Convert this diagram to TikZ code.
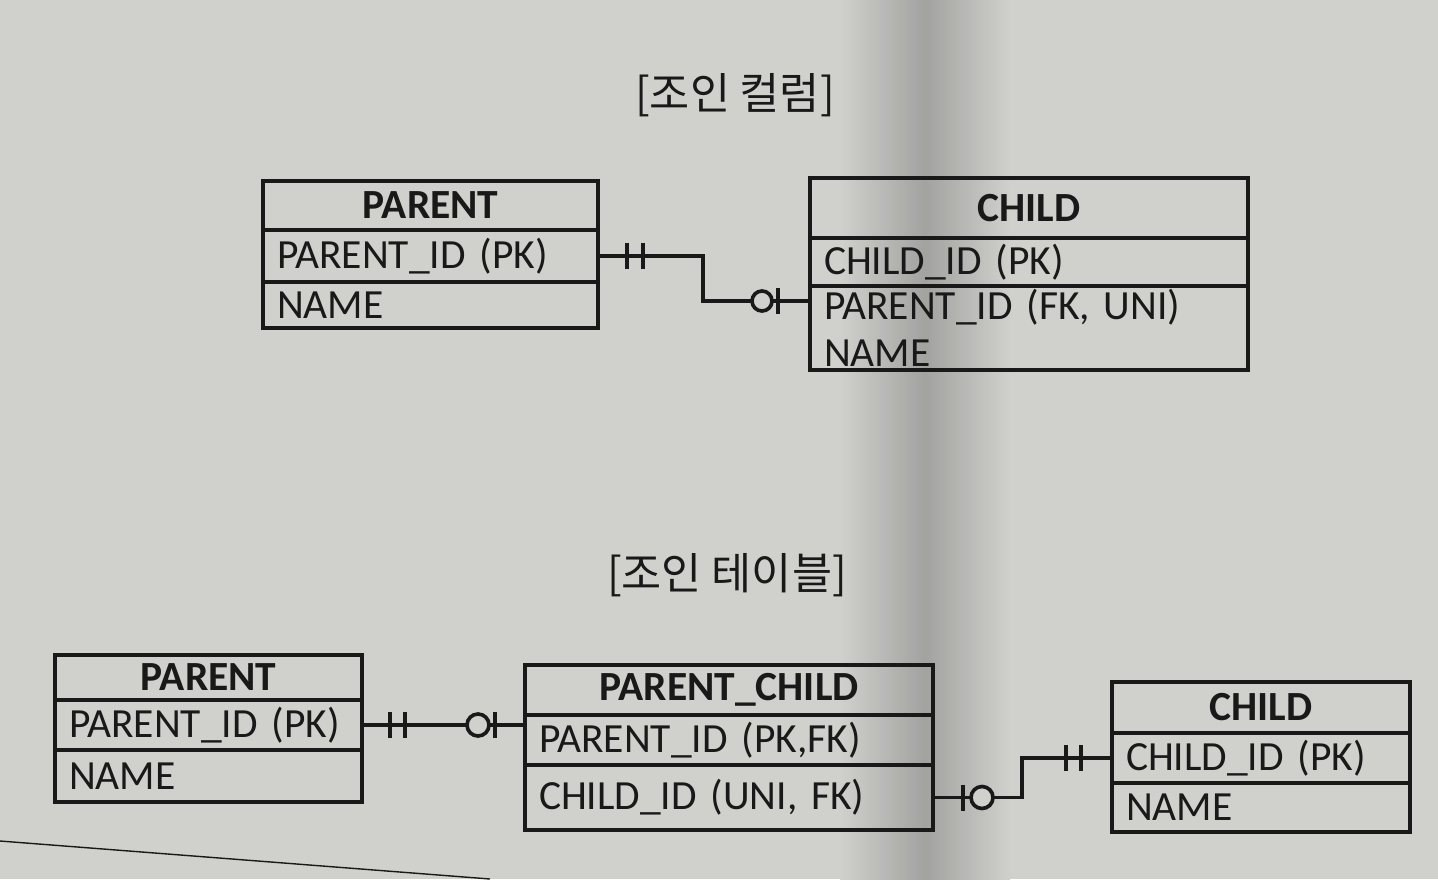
\documentclass[tikz,border=0pt]{standalone}
\usepackage{fontspec}
\setmainfont{Carlito}
\newfontfamily\krfont{Noto Sans CJK KR}
\usetikzlibrary{positioning,calc}
\definecolor{paper}{RGB}{208,208,205}
\definecolor{ink}{RGB}{25,25,25}

\tikzset{
  cell/.style = {draw = ink, line width = 2.6pt, inner xsep = 3.5mm, inner ysep = 0pt, outer sep = 0pt, anchor = north, text = ink},
  head/.style n args = {2}{cell, minimum width = #1*0.25mm, minimum height = #2*0.25mm, font = \fontsize{29.5}{31}\selectfont\bfseries},
  row/.style n args = {2}{cell, text width = #1*0.25mm-7mm, minimum height = #2*0.25mm, align = left, font = \fontsize{29.5}{33}\selectfont},
  title/.style = {text = ink, font = \krfont\fontsize{31}{33}\selectfont},
  link/.style = {draw = ink, line width = 2.6pt}
}

\begin{document}
\begin{tikzpicture}[x = 0.25mm, y = 0.25mm]
\fill[paper] (0,0) rectangle (1438,-879);
\shade[left color = paper, right color = paper, middle color = paper!78!black] (840,0) rectangle (1010,-879);
\useasboundingbox (0,0) rectangle (1438,-879);

% join column
\node[title] (t1) at (735,-95) {[조인 컬럼]};

\node[head = {335}{49}, anchor = north west] (p1head) at (263,-181) {PARENT};
\node[row = {335}{52}, below = 0pt of p1head] (p1id) {PARENT\_ID (PK)};
\node[row = {335}{46}, below = 0pt of p1id] (p1name) {NAME};

\node[head = {438}{60}, anchor = north west] (c1head) at (810,-178) {CHILD};
\node[row = {438}{48}, below = 0pt of c1head] (c1id) {CHILD\_ID (PK)};
\node[row = {438}{84}, below = 0pt of c1id] (c1pid) {PARENT\_ID (FK, UNI)\\NAME};
\coordinate (c1fk) at ($(c1pid.north west)+(0,-15)$);

\draw[link] (p1id.east) -- ++(105,0) |- (c1fk);
\foreach \dx in {29,45} \draw[link] ($(p1id.east)+(\dx,13)$) -- ++(0,-26);
\draw[link] ($(c1fk)+(-32,13)$) -- ++(0,-26);
\draw[link, fill = paper] ($(c1fk)+(-48,0)$) circle[radius = 10];

% join table
\node[title] (t2) at (727,-575) {[조인 테이블]};

\node[head = {307}{45}, anchor = north west] (p2head) at (55,-655) {PARENT};
\node[row = {307}{50}, below = 0pt of p2head] (p2id) {PARENT\_ID (PK)};
\node[row = {307}{52}, below = 0pt of p2id] (p2name) {NAME};

\node[head = {408}{50}, anchor = north west] (pchead) at (525,-665) {PARENT\_CHILD};
\node[row = {408}{50}, below = 0pt of pchead] (pcpid) {PARENT\_ID (PK,FK)};
\node[row = {408}{65}, below = 0pt of pcpid] (pccid) {CHILD\_ID (UNI, FK)};

\node[head = {298}{51}, anchor = north west] (c2head) at (1112,-682) {CHILD};
\node[row = {298}{50}, below = 0pt of c2head] (c2id) {CHILD\_ID (PK)};
\node[row = {298}{49}, below = 0pt of c2id] (c2name) {NAME};

\draw[link] (p2id.east) -- (p2id.east -| pcpid.west);
\foreach \dx in {28,43} \draw[link] ($(p2id.east)+(\dx,13)$) -- ++(0,-26);
\draw[link] ($(p2id.east -| pcpid.west)+(-30,13)$) -- ++(0,-26);
\draw[link, fill = paper] ($(p2id.east -| pcpid.west)+(-47,0)$) circle[radius = 11];

\draw[link] (pccid.east) -- ++(89,0) |- (c2id.west);
\draw[link] ($(pccid.east)+(30,13)$) -- ++(0,-26);
\draw[link, fill = paper] ($(pccid.east)+(49,0)$) circle[radius = 11];
\foreach \dx in {-46,-31} \draw[link] ($(c2id.west)+(\dx,13)$) -- ++(0,-26);

\draw[ink, line width = 1pt] (0,-841) -- (490,-879);
\end{tikzpicture}
\end{document}
